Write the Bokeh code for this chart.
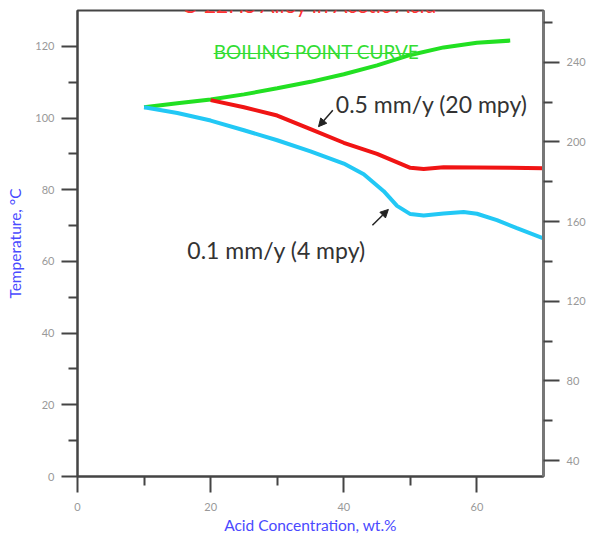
import math

from bokeh.embed import file_html
from bokeh.models import Arrow, FixedTicker, Label, LinearAxis, NormalHead, Range1d
from bokeh.plotting import figure
from bokeh.resources import INLINE

# Acid concentration (wt.%) against temperature (deg C)
boil_conc = [10, 15, 20, 25, 30, 35, 40, 45, 50, 55, 60, 65]
boil_temp = [103.0, 104.1, 105.2, 106.6, 108.3, 110.1, 112.2, 114.7, 117.6, 119.7, 121.0, 121.6]

rate05_conc = [20, 25, 30, 35, 40, 45, 50, 52, 55, 60, 65, 70]
rate05_temp = [105.0, 103.0, 100.7, 96.9, 93.1, 90.0, 86.1, 85.8, 86.3, 86.2, 86.1, 86.0]

rate01_conc = [10, 15, 20, 25, 30, 35, 40, 43, 46, 48, 50, 52, 55, 58, 60, 63, 66, 70]
rate01_temp = [103.0, 101.4, 99.3, 96.6, 93.8, 90.7, 87.3, 84.3, 79.6, 75.5, 73.2, 72.8,
               73.4, 73.8, 73.3, 71.5, 69.3, 66.4]

# tick positions
x_major = [0, 20, 40, 60]
x_minor = [10, 30, 50]
c_major = [0, 20, 40, 60, 80, 100, 120]
c_minor = [10, 30, 50, 70, 90, 110]
f_major = [40, 80, 120, 160, 200, 240]
f_minor = [60, 100, 140, 180, 220, 260]

X_MAX, C_MAX = 70, 130

FONT = "Lato"
AXIS_COLOR = "#444444"
TICK_LABEL_COLOR = "#999999"
TITLE_BLUE = "#4a4aff"

p = figure(
    frame_width=466, frame_height=466,
    x_range=Range1d(0, X_MAX), y_range=Range1d(0, C_MAX),
    min_border_left=77, min_border_right=64, min_border_top=10, min_border_bottom=57,
    output_backend="svg", toolbar_location=None,
)
p.extra_y_ranges = {"F": Range1d(0 * 9 / 5 + 32, C_MAX * 9 / 5 + 32)}
p.xgrid.visible = False
p.ygrid.visible = False
p.outline_line_color = AXIS_COLOR
p.outline_line_width = 2
p.background_fill_color = "white"
p.border_fill_color = "white"

right = LinearAxis(y_range_name="F")
p.add_layout(right, "right")

p.xaxis.ticker = FixedTicker(ticks=x_major, minor_ticks=x_minor)
p.yaxis[0].ticker = FixedTicker(ticks=c_major, minor_ticks=c_minor)
right.ticker = FixedTicker(ticks=f_major, minor_ticks=f_minor)

for ax in (p.xaxis[0], p.yaxis[0], right):
    ax.major_tick_out = 16
    ax.minor_tick_out = 9
    ax.major_tick_in = 0
    ax.minor_tick_in = 0
    ax.axis_line_color = AXIS_COLOR
    ax.axis_line_width = 2
    ax.major_tick_line_color = AXIS_COLOR
    ax.major_tick_line_width = 2
    ax.minor_tick_line_color = AXIS_COLOR
    ax.minor_tick_line_width = 2
    ax.major_label_text_font = FONT
    ax.major_label_text_font_size = "11px"
    ax.major_label_text_color = TICK_LABEL_COLOR
    ax.major_label_standoff = 7
    ax.axis_label_text_font = FONT
    ax.axis_label_text_font_style = "normal"
    ax.axis_label_text_font_size = "15.5px"
    ax.axis_label_text_color = TITLE_BLUE

right.axis_line_color = "#777777"
right.axis_line_width = 3

p.xaxis.major_label_standoff = 10
p.xaxis.axis_label = "Acid Concentration, wt.%"
p.xaxis.axis_label_standoff = 2
p.yaxis[0].axis_label = "Temperature, °C"
p.yaxis[0].axis_label_standoff = 8

# curves
p.line(boil_conc, boil_temp, line_color="#22e022", line_width=4)
p.line(rate05_conc, rate05_temp, line_color="#f01414", line_width=4)
p.line(rate01_conc, rate01_temp, line_color="#22c8f5", line_width=4)

# labels on the plot
p.add_layout(Label(x=20.45, y=118.6, text="BOILING POINT CURVE", text_font=FONT,
                   text_font_size="19px", text_color="#33dd33", text_baseline="alphabetic"))
p.line([20.45, 51.1], [118.0, 118.0], line_color="#33dd33", line_width=1)

p.add_layout(Label(x=38.8, y=103.9, text="0.5 mm/y (20 mpy)", text_font=FONT,
                   text_font_size="23px", text_color="#333333", text_baseline="alphabetic"))
p.add_layout(Label(x=16.5, y=63.1, text="0.1 mm/y (4 mpy)", text_font=FONT,
                   text_font_size="23px", text_color="#333333", text_baseline="alphabetic"))

head = dict(size=8, fill_color="#222222", line_color="#222222")
p.add_layout(Arrow(end=NormalHead(**head), x_start=38.35, y_start=102.2, x_end=36.2, y_end=97.6,
                   line_color="#222222", line_width=1.5))
p.add_layout(Arrow(end=NormalHead(**head), x_start=44.3, y_start=70.1, x_end=46.7, y_end=74.5,
                   line_color="#222222", line_width=1.5))

# chart title, sitting above the frame
p.add_layout(Label(x=35, y=131.8, text="C-22HS Alloy in Acetic Acid", text_font=FONT,
                   text_font_size="21px", text_color="#ff3333", text_align="center",
                   text_baseline="alphabetic"))

# Fahrenheit axis title, read bottom to top
p.add_layout(Label(x=78.8, y=66.8, text="Temperature, °F", angle=math.pi / 2, text_font=FONT,
                   text_font_size="15.5px", text_color=TITLE_BLUE, text_align="center",
                   text_baseline="middle"))

open("out.html", "w").write(file_html(p, INLINE))
